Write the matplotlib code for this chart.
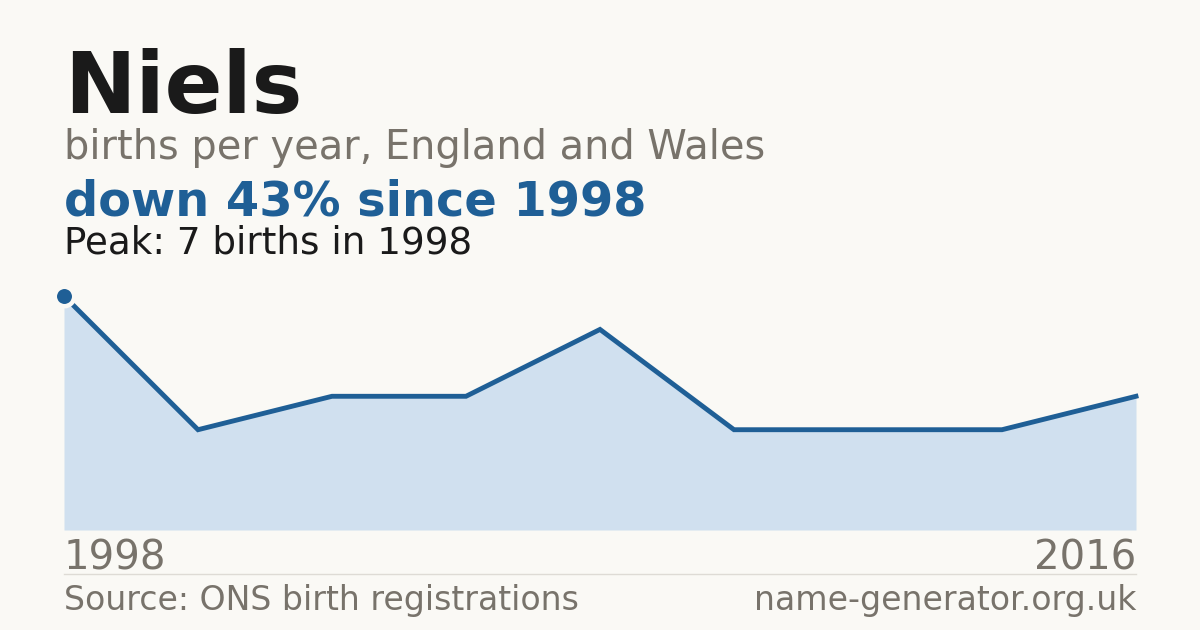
import numpy as np
import matplotlib.pyplot as plt

W, H = 1200, 630

# data (births per year, x evenly spaced from 1998 to 2016)
births = [7, 3, 4, 4, 6, 3, 3, 3, 4]
first_year = "1998"
last_year = "2016"

name = "Niels"
subtitle = "births per year, England and Wales"
headline = "down 43% since 1998"
peak_note = "Peak: 7 births in 1998"
source = "Source: ONS birth registrations"
site = "name-generator.org.uk"

bg = "#faf9f5"
ink = "#1a1a1a"
grey = "#78736b"
blue = "#1f5f96"
fill = "#d0e0ef"


def fy(px):
    return 1 - px / H


def fx(px):
    return px / W


fig = plt.figure(figsize=(W / 100, H / 100), dpi=100, facecolor=bg)

# chart area: x 64..1136, baseline at y=530
ax = fig.add_axes([fx(64), fy(530), fx(1136) - fx(64), fy(280) - fy(530)])
ax.set_facecolor(bg)
x = np.arange(len(births))
ax.fill_between(x, births, 0, color=fill, linewidth=0, zorder=1)
ax.plot(x, births, color=blue, linewidth=3.5, solid_joinstyle="miter", zorder=2)
ax.plot(x[0], births[0], "o", color=blue, markersize=14, markeredgecolor=bg,
        markeredgewidth=3.2, zorder=3)
ax.set_xlim(0, len(births) - 1)
ax.set_ylim(0, 250 / (234 / 7))
ax.axis("off")
for art in ax.get_children():
    try:
        art.set_clip_on(False)
    except AttributeError:
        pass

# texts
fig.text(fx(64), fy(113), name, fontsize=61.5, fontweight="bold", color=ink, va="baseline")
fig.text(fx(64), fy(159), subtitle, fontsize=28.7, color=grey, va="baseline")
fig.text(fx(64), fy(215), headline, fontsize=34.5, fontweight="bold", color=blue, va="baseline")
fig.text(fx(64), fy(253), peak_note, fontsize=26.8, color=ink, va="baseline")

fig.text(fx(64), fy(570), first_year, fontsize=29, color=grey, va="baseline")
fig.text(fx(1136), fy(570), last_year, fontsize=29, color=grey, va="baseline", ha="right")

fig.add_artist(plt.Line2D([fx(64), fx(1136)], [fy(574), fy(574)], color="#dedbd5", linewidth=1))

fig.text(fx(64), fy(610), source, fontsize=23.9, color=grey, va="baseline")
fig.text(fx(1136), fy(610), site, fontsize=23.9, color=grey, va="baseline", ha="right")

fig.savefig("out.png", dpi=100, facecolor=bg)
